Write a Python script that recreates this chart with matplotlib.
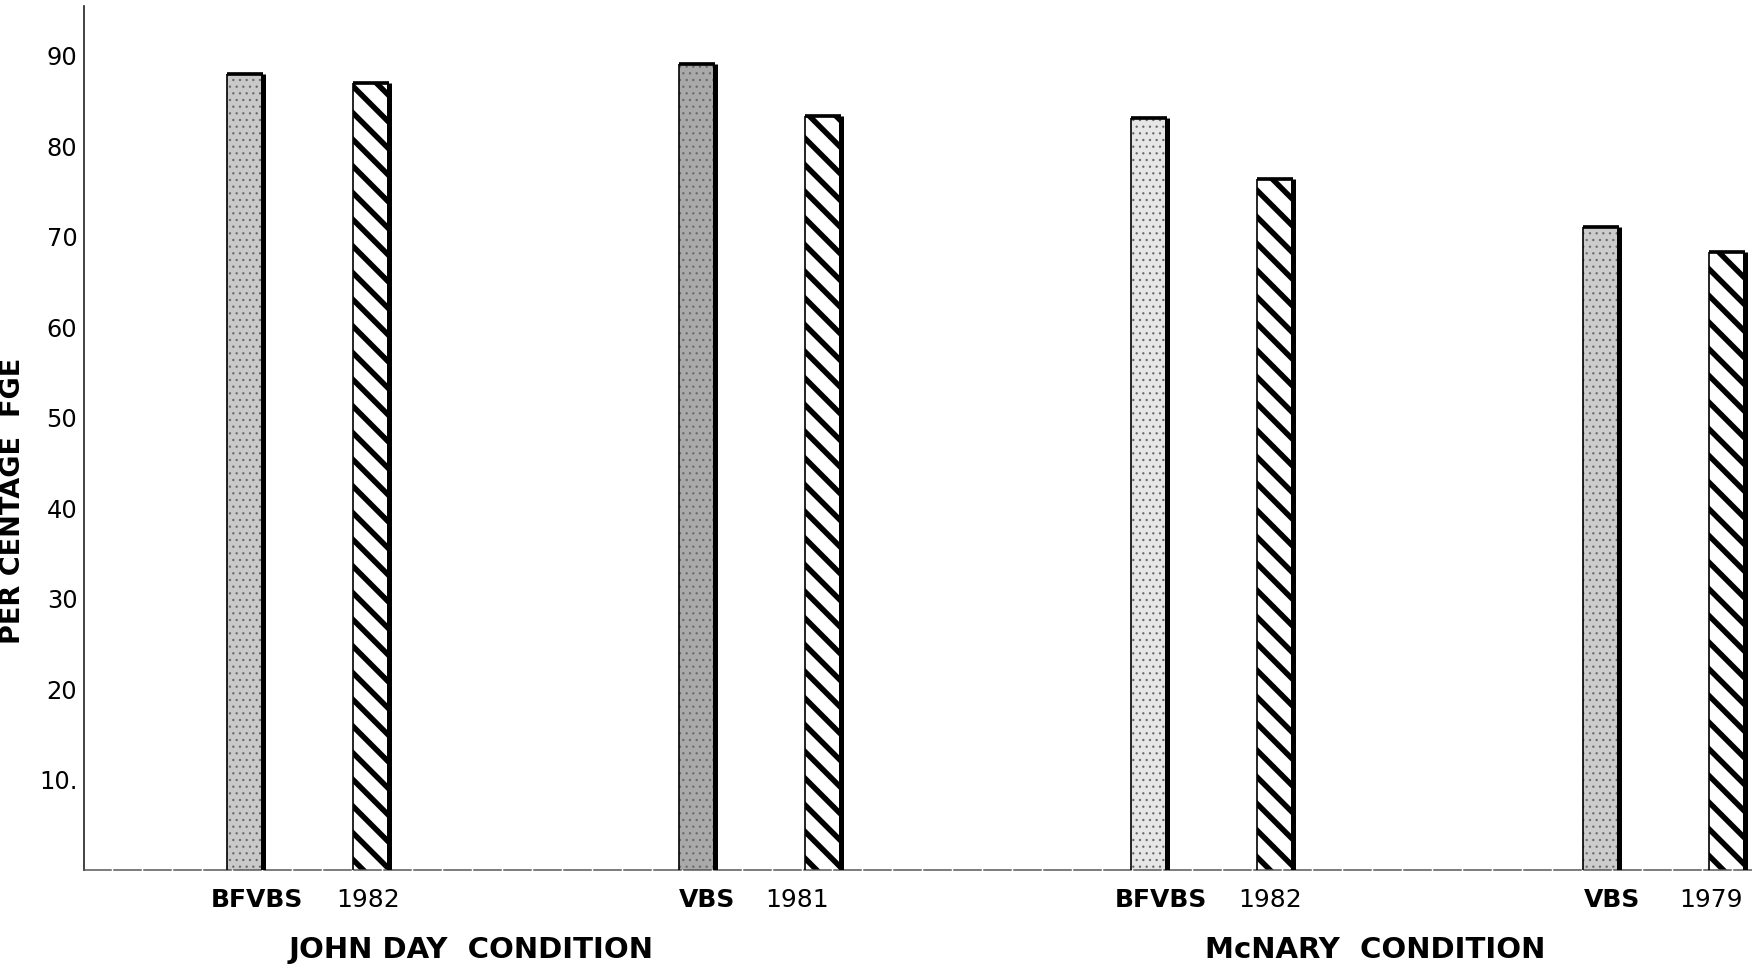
"""
Per centage FGE by screen type / year, John Day and McNary conditions.
Recreated bar chart in the style of an old typed report figure.
"""
import matplotlib
matplotlib.use('Agg')
import matplotlib.pyplot as plt
from matplotlib.transforms import blended_transform_factory
import numpy as np

# ---- data ----
conditions = ['JOHN DAY  CONDITION', 'McNARY  CONDITION']
bar_labels = ['BFVBS', '1982', 'VBS', '1981', 'BFVBS', '1982', 'VBS', '1979']
fge_pct = [88.0, 87.0, 89.1, 83.3, 83.1, 76.4, 71.1, 68.3]
y_ticks = [10, 20, 30, 40, 50, 60, 70, 80, 90]
y_tick_labels = ['10.', '20', '30', '40', '50', '60', '70', '80', '90']

# ---- styling ----
DPI = 160          # hatch spacing scales with dpi, so pick it for the stripes
K = 120 / DPI      # sizes below were tuned at 120 dpi
pair_offset = 0.279
bar_w = 0.08
stipple_grays = ['#c9c9c9', '#a9a9a9', '#e6e6e6', '#cccccc']
# small horizontal nudges of the bar labels, as typed in the original
label_nudge = [0.027, -0.007, 0.022, -0.058, 0.027, -0.011, 0.024, -0.035]


def main():
    fig = plt.figure(figsize=(1752 / DPI, 968 / DPI), dpi=DPI)
    ax = fig.add_axes([84 / 1752, 98 / 968, 1668 / 1752, 864 / 968])

    vals = np.array(fge_pct)
    pairs = np.arange(len(vals) // 2)
    x = np.repeat(pairs, 2) + np.tile([0.0, pair_offset], len(pairs))
    stip = np.tile([True, False], len(pairs))

    # stippled (solid screen) bars
    with plt.rc_context({'hatch.linewidth': 0.6 * K}):
        ax.bar(x[stip], vals[stip], bar_w, color=stipple_grays,
               edgecolor='#6a6a6a', linewidth=0, hatch='....', zorder=2)
    # hatched (year) bars
    with plt.rc_context({'hatch.linewidth': 3.3 * K}):
        ax.bar(x[~stip], vals[~stip], bar_w, color='white',
               edgecolor='black', linewidth=0, hatch='\\\\', zorder=2)

    # outlines: thin left, heavy right and top edge
    ax.vlines(x - bar_w / 2, 0, vals, color='black', lw=1.0 * K, zorder=3)
    ax.vlines(x + bar_w / 2, 0, vals, color='black', lw=3.0 * K, zorder=3)
    ax.hlines(vals, x - bar_w / 2, x + bar_w / 2, color='black', lw=2.2 * K, zorder=3)

    ax.set_xlim(-0.356, 3.334)
    ax.set_ylim(0, 95.5)

    for s in ['top', 'right']:
        ax.spines[s].set_visible(False)
    ax.spines['left'].set_color('#222222')
    ax.spines['left'].set_linewidth(1.0 * K)
    ax.spines['bottom'].set_color('#555555')
    ax.spines['bottom'].set_linewidth(0.9 * K)
    ax.spines['bottom'].set_linestyle((0, (18, 2)))

    ax.set_yticks(y_ticks)
    ax.set_yticklabels(y_tick_labels, fontsize=14.5 * K)
    ax.tick_params(axis='y', length=0, pad=4 * K)

    ax.set_xticks(x + np.array(label_nudge))
    ax.set_xticklabels(bar_labels, fontsize=15 * K)
    for lab, is_type in zip(ax.get_xticklabels(), stip):
        if is_type:
            lab.set_fontweight('bold')
    ax.tick_params(axis='x', length=0, pad=11 * K)

    ax.set_ylabel('PER CENTAGE  FGE', fontsize=16.25 * K, fontweight='bold')
    ax.yaxis.set_label_coords(-0.0348, 0.427)

    # condition captions under each group of four bars
    trans = blended_transform_factory(ax.transData, ax.transAxes)
    for i, name in enumerate(conditions):
        ax.text(pairs[2 * i] + 0.5, -0.093, name, transform=trans,
                ha='center', va='center', fontsize=17.5 * K, fontweight='bold')

    fig.savefig('out.png', dpi=DPI)
    plt.close(fig)


if __name__ == '__main__':
    main()
